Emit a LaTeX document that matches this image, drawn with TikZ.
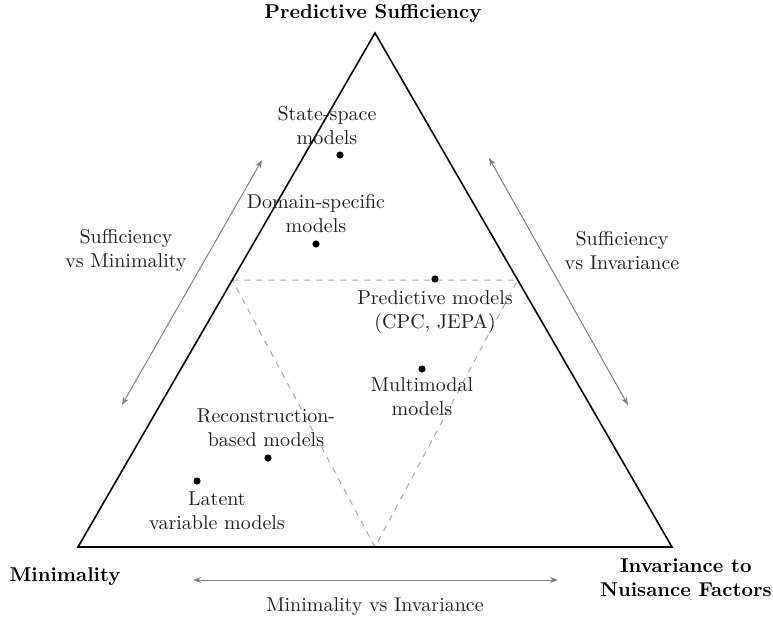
\documentclass[tikz,border=0pt]{standalone}
\usetikzlibrary{arrows.meta}
\begin{document}
\begin{tikzpicture}[x=0.5pt,y=-0.5pt,
  dot/.style={circle,fill=black,inner sep=0pt,minimum size=3.6pt},
  lbl/.style={align=center,font=\normalsize,text=black!88,inner sep=0pt},
  corner/.style={align=center,font=\bfseries,inner sep=0pt},
  tradeoff/.style={gray,line width=0.5pt,{Stealth[length=4pt,width=3pt]}-{Stealth[length=4pt,width=3pt]}},
  inner/.style={gray!70,dashed,line width=0.5pt},
  edge/.style={black,line width=0.8pt}]
\useasboundingbox (0,0) rectangle (773,623);
% triangle vertices
\coordinate (T) at (375,33);
\coordinate (L) at (78,547);
\coordinate (R) at (672,547);
% inner dashed triangle
\coordinate (IL) at (232.3,280);
\coordinate (IR) at (517.7,280);
\coordinate (IB) at (375,547);
\draw[inner] (IL) -- (IR) -- (IB) -- cycle;
\draw[edge] (T) -- (L) -- (R) -- cycle;
% corner labels
\node[corner] (pS) at (373,13) {Predictive Sufficiency};
\node[corner] (pM) at (65,577) {Minimality};
\node[corner,anchor=east] (pI) at (772,578) {Invariance to\\Nuisance Factors};
% trade-off arrows
\coordinate (a1) at (262,160);
\coordinate (a2) at (122,405);
\coordinate (b1) at (489,158);
\coordinate (b2) at (628,405);
\coordinate (c1) at (193,580);
\coordinate (c2) at (558,580);
\draw[tradeoff] (a2) -- (a1);
\draw[tradeoff] (b1) -- (b2);
\draw[tradeoff] (c1) -- (c2);
\node[lbl] (tSM) at (126,250) {Sufficiency\\vs Minimality};
\node[lbl] (tSI) at (622,251) {Sufficiency\\vs Invariance};
\node[lbl] (tMI) at (375,607) {Minimality vs Invariance};
% models
\node[dot] (d1) at (340,155) {};
\node[lbl] (m1) at (327,126) {State-space\\models};
\node[dot] (d2) at (316,244) {};
\node[lbl] (m2) at (316,214) {Domain-specific\\models};
\node[dot] (d3) at (435,279) {};
\node[lbl] (m3) at (435,312) {Predictive models\\(CPC, JEPA)};
\node[dot] (d4) at (422,369) {};
\node[lbl] (m4) at (422,397) {Multimodal\\models};
\node[dot] (d5) at (268,458) {};
\node[lbl] (m5) at (266,428) {Reconstruction-\\based models};
\node[dot] (d6) at (197,481) {};
\node[lbl] (m6) at (217,511) {Latent\\variable models};
\end{tikzpicture}
\end{document}
